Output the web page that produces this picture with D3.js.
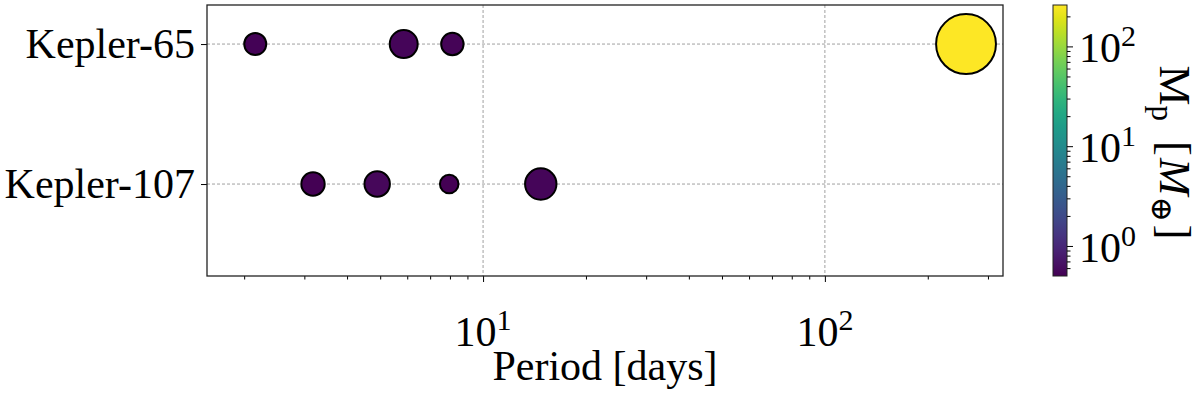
<!DOCTYPE html>
<html>
<head>
<meta charset="utf-8">
<script src="https://cdn.jsdelivr.net/npm/d3@7/dist/d3.min.js"></script>
<style>
  body { margin: 0; background: #fff; }
  text { font-family: "Liberation Serif", "DejaVu Serif", serif; fill: #000; }
</style>
</head>
<body>
<div id="chart"></div>
<script>
// planets, one entry each
var systems = ["Kepler-107", "Kepler-65"];          // bottom to top
var planet_system = ["Kepler-65", "Kepler-65", "Kepler-65", "Kepler-65",
                     "Kepler-107", "Kepler-107", "Kepler-107", "Kepler-107"];
var periods = [2.155, 5.859, 8.131, 258.8, 3.18, 4.90, 7.96, 14.75];   // days
var radii   = [1.31, 2.26, 1.37, 10.9, 1.51, 1.83, 0.86, 2.90];        // Earth radii (marker size)
var masses  = [0.52, 0.55, 0.53, 260, 0.51, 0.56, 0.5, 0.54];          // Earth masses (colour)

var x_major = [10, 100];
var x_minor = [2, 3, 4, 5, 6, 7, 8, 9, 20, 30, 40, 50, 60, 70, 80, 90, 200, 300];
var c_major = [1, 10, 100];
var c_minor = [0.6, 0.7, 0.8, 0.9, 2, 3, 4, 5, 6, 7, 8, 9, 20, 30, 40, 50, 60, 70, 80, 90, 200];

var W = 1200, H = 394;
var ax = {left: 207, right: 1003, top: 5, bottom: 276};
var cb = {left: 1053, right: 1067};
var fs = 42;

var svg = d3.select('#chart').append('svg')
    .attr('width', W)
    .attr('height', H);

var x = d3.scaleLog().domain([1.557, 332]).range([ax.left, ax.right]);
var y = d3.scaleLinear().domain([-0.657, 1.279]).range([ax.bottom, ax.top]);
var area = d3.scaleLinear().domain([0, 10]).range([33, 881]);
var cnorm = d3.scaleLog().domain(d3.extent(masses)).range([0, 1]);
var color = function(m) { return d3.interpolateViridis(cnorm(m)); };

// grid
var grid = svg.append('g');
grid.selectAll('.gx').data(x_major).enter().append('line')
    .attr('x1', function(d) { return x(d); })
    .attr('x2', function(d) { return x(d); })
    .attr('y1', ax.top).attr('y2', ax.bottom);
grid.selectAll('.gy').data(systems).enter().append('line')
    .attr('x1', ax.left).attr('x2', ax.right)
    .attr('y1', function(d, i) { return y(i); })
    .attr('y2', function(d, i) { return y(i); });
grid.selectAll('line')
    .attr('stroke', '#a0a0a0')
    .attr('stroke-width', 1)
    .attr('stroke-dasharray', '3,2');

// x axis ticks
var xminor = svg.append('g')
    .attr('transform', 'translate(0,' + ax.bottom + ')')
    .call(d3.axisBottom(x).tickValues(x_minor).tickSize(3.5).tickFormat(''));
var xmajor = svg.append('g')
    .attr('transform', 'translate(0,' + ax.bottom + ')')
    .call(d3.axisBottom(x).tickValues(x_major).tickSize(6).tickFormat(''));
[xminor, xmajor].forEach(function(g) {
  g.select('.domain').remove();
  g.selectAll('line').attr('stroke', '#000').attr('stroke-width', 1);
});

function powLabel(sel, exp) {
  sel.append('tspan').text('10');
  sel.append('tspan').text(exp)
    .attr('font-size', 30)
    .attr('dy', -16);
}

svg.selectAll('.xlab').data(x_major).enter().append('text')
    .attr('x', function(d) { return x(d); })
    .attr('y', 346)
    .attr('font-size', fs)
    .attr('text-anchor', 'middle')
    .each(function(d) { powLabel(d3.select(this), Math.round(Math.log10(d))); });

svg.append('text')
    .attr('x', (ax.left + ax.right) / 2)
    .attr('y', 380)
    .attr('font-size', fs)
    .attr('text-anchor', 'middle')
    .text('Period [days]');

// y axis
var yaxis = svg.append('g')
    .attr('transform', 'translate(' + ax.left + ',0)')
    .call(d3.axisLeft(y).tickValues([0, 1]).tickSize(6)
          .tickFormat(function(d) { return systems[d]; }));
yaxis.select('.domain').remove();
yaxis.selectAll('line').attr('stroke', '#000');
yaxis.selectAll('text')
    .attr('font-size', fs)
    .attr('font-family', '"Liberation Serif", serif')
    .attr('x', -12)
    .attr('dy', '0.33em');

// planets
svg.selectAll('.planet').data(periods).enter().append('circle')
    .attr('cx', function(d) { return x(d); })
    .attr('cy', function(d, i) { return y(systems.indexOf(planet_system[i])); })
    .attr('r', function(d, i) { return Math.sqrt(area(radii[i])) - 1; })
    .attr('fill', function(d, i) { return color(masses[i]); })
    .attr('stroke', '#000')
    .attr('stroke-width', 2);

// frame
svg.append('rect')
    .attr('x', ax.left).attr('y', ax.top)
    .attr('width', ax.right - ax.left)
    .attr('height', ax.bottom - ax.top)
    .attr('fill', 'none')
    .attr('stroke', '#222')
    .attr('stroke-width', 1.3);

// colour bar
var cy = d3.scaleLog().domain(d3.extent(masses)).range([ax.bottom, ax.top]);
var defs = svg.append('defs');
var grad = defs.append('linearGradient')
    .attr('id', 'viridis')
    .attr('x1', 0).attr('y1', 1).attr('x2', 0).attr('y2', 0);
grad.selectAll('stop').data(d3.range(0, 1.0001, 0.05)).enter().append('stop')
    .attr('offset', function(d) { return d; })
    .attr('stop-color', function(d) { return d3.interpolateViridis(d); });

svg.append('rect')
    .attr('x', cb.left).attr('y', ax.top)
    .attr('width', cb.right - cb.left)
    .attr('height', ax.bottom - ax.top)
    .attr('fill', 'url(#viridis)')
    .attr('stroke', '#222')
    .attr('stroke-width', 1);

var cminor = svg.append('g')
    .attr('transform', 'translate(' + cb.right + ',0)')
    .call(d3.axisRight(cy).tickValues(c_minor).tickSize(3.5).tickFormat(''));
var cmajor = svg.append('g')
    .attr('transform', 'translate(' + cb.right + ',0)')
    .call(d3.axisRight(cy).tickValues(c_major).tickSize(6).tickFormat(''));
[cminor, cmajor].forEach(function(g) {
  g.select('.domain').remove();
  g.selectAll('line').attr('stroke', '#000');
});

svg.selectAll('.clab').data(c_major).enter().append('text')
    .attr('x', cb.right + 12)
    .attr('y', function(d) { return cy(d) + 16; })
    .attr('font-size', fs)
    .each(function(d) { powLabel(d3.select(this), Math.round(Math.log10(d))); });

var clabel = svg.append('text')
    .attr('transform', 'translate(1160,' + ((ax.top + ax.bottom) / 2 + 12) + ') rotate(90)')
    .attr('text-anchor', 'middle')
    .attr('font-size', 45);
clabel.append('tspan').text('M');
clabel.append('tspan').text('p').attr('font-size', 31).attr('dy', 8);
clabel.append('tspan').text('[').attr('dy', -8).attr('dx', 20);
clabel.append('tspan').text('M').attr('font-style', 'italic').attr('dx', 2);
clabel.append('tspan').text('\u2295').attr('font-size', 30).attr('dy', 8).attr('dx', 1)
    .attr('font-family', '"DejaVu Serif", serif');
clabel.append('tspan').text(']').attr('dy', -8).attr('dx', 3);
</script>
</body>
</html>
